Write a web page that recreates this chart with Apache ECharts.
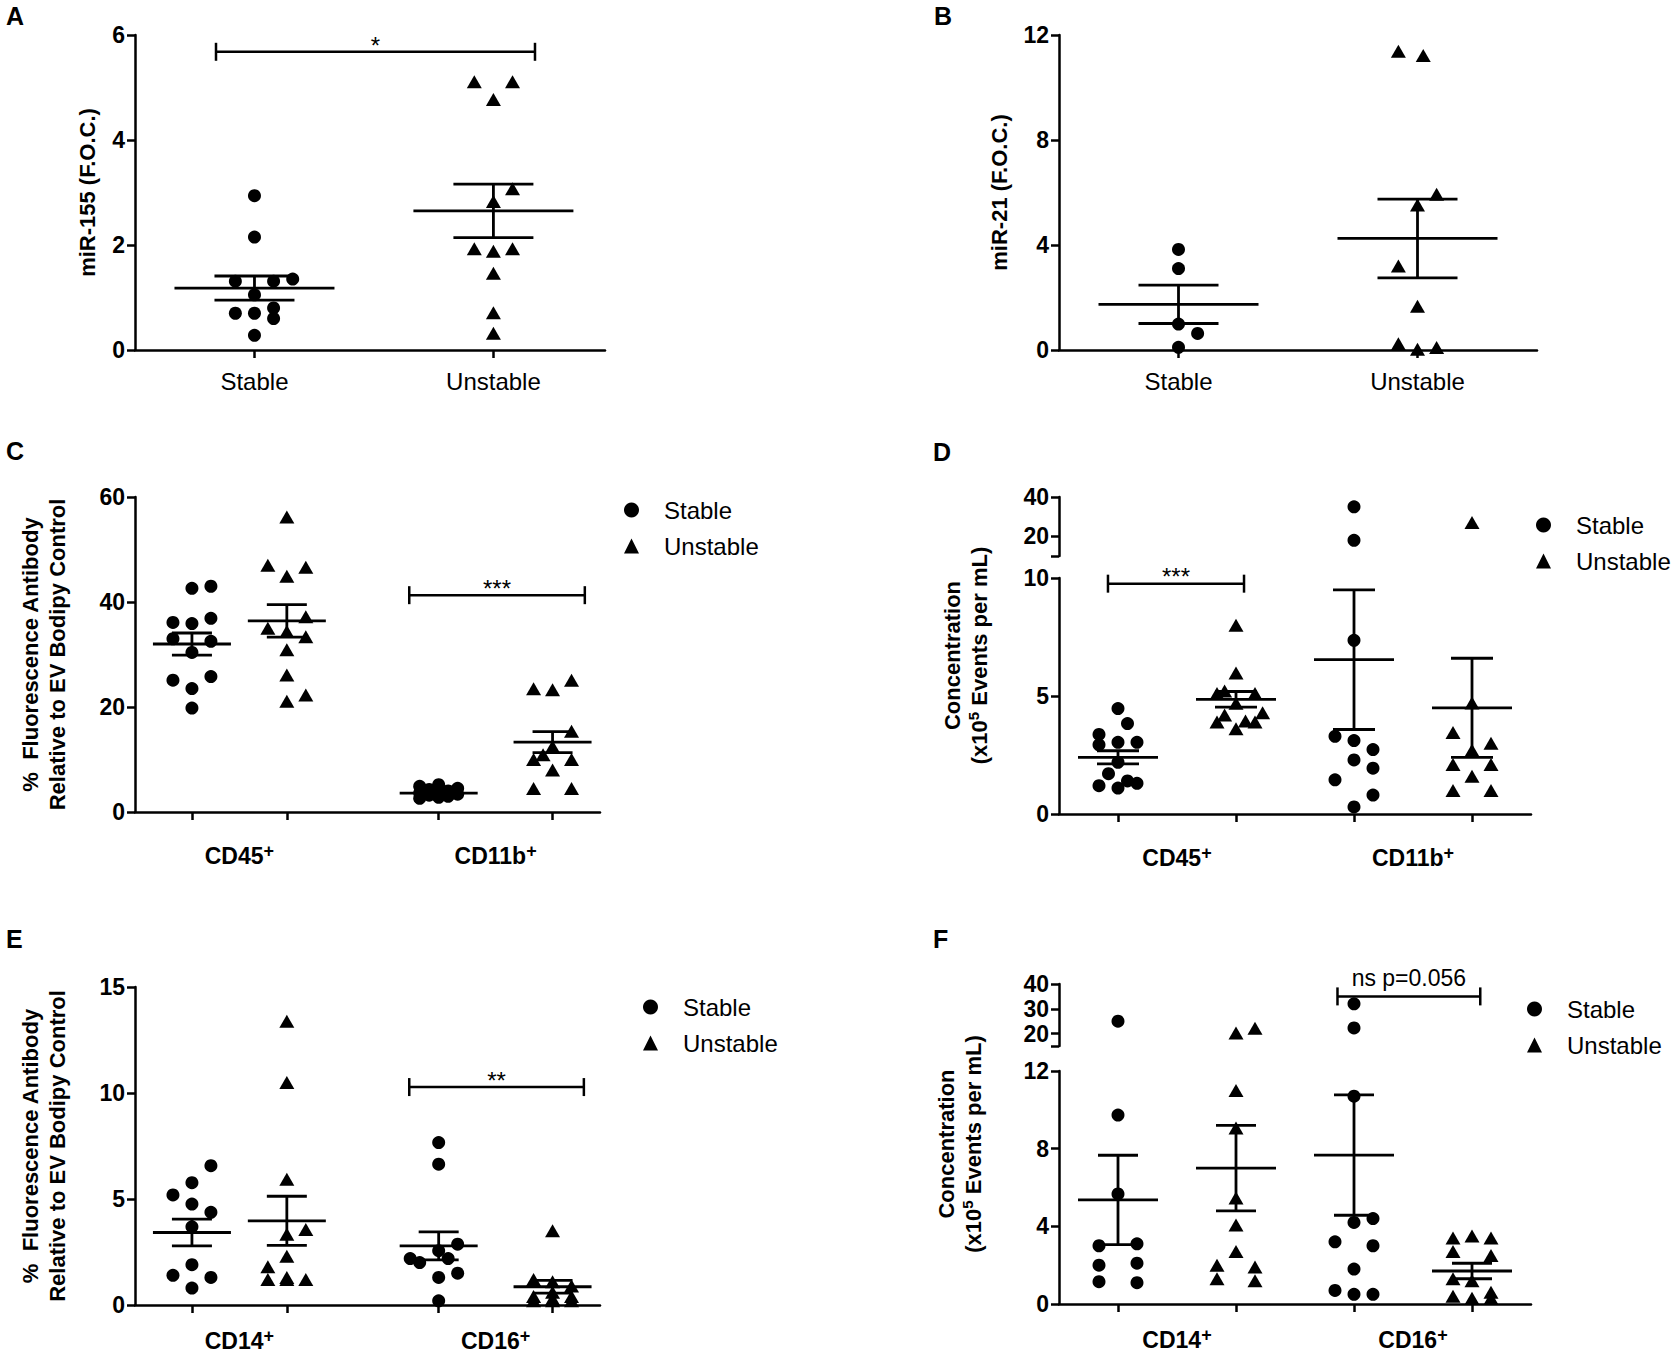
<!DOCTYPE html>
<html><head><meta charset="utf-8">
<script src="https://cdn.jsdelivr.net/npm/echarts@6/dist/echarts.min.js"></script>
<style>html,body{margin:0;padding:0;background:#fff}#c{width:1679px;height:1358px}</style>
</head><body><div id="c"></div>
<script>
// ================= DATA =================
// Panel A: miR-155 (F.O.C.)
const aCats = ['Stable', 'Unstable'];
const aStable = [2.94, 2.15, 1.31, 1.31, 1.35, 1.05, 0.70, 0.70, 0.80, 0.60, 0.28];
const aStableJit = [0, 0, -1, 1, 2, 0, -1, 0, 1, 1, 0];
const aUnstable = [5.11, 5.11, 4.77, 3.07, 2.83, 1.93, 1.88, 1.93, 1.46, 0.71, 0.32];
const aUnstableJit = [-1, 1, 0, 1, 0, -1, 0, 1, 0, 0, 0];
const aMean = [1.18, 2.65];
const aSem = [0.23, 0.51];
const aYTicks = [0, 2, 4, 6];

// Panel B: miR-21 (F.O.C.)
const bCats = ['Stable', 'Unstable'];
const bStable = [3.83, 3.10, 0.99, 0.63, 0.10];
const bStableJit = [0, 0, 0, 1, 0];
const bUnstable = [11.38, 11.22, 5.93, 5.52, 3.2, 1.67, 0.24, 0.03, 0.10];
const bUnstableJit = [-1, 0.3, 1, 0, -1, 0, -1, 0, 1];
const bMean = [1.74, 4.25];
const bSem = [0.73, 1.5];
const bYTicks = [0, 4, 8, 12];

// Panel C: % fluorescence antibody (CD45+, CD11b+)
const cGroups = ['CD45', 'CD11b'];
const cCD45Stable = [42.6, 43.0, 36.1, 35.9, 36.9, 33.0, 32.5, 30.4, 25.1, 25.8, 23.5, 19.8];
const cCD45StableJit = [0, 1, -1, 0, 1, -1, 1, 0, -1, 1, 0, 0];
const cCD45Unstable = [56.2, 47.0, 46.6, 44.9, 37.2, 35.0, 34.4, 33.4, 30.9, 26.1, 21.1, 22.3];
const cCD45UnstableJit = [0, -1, 1, 0, 1, -1, 0, 1, 0, 0, 0, 1];
const cCD11bStable = [5.2, 4.9, 4.5, 4.3, 4.0, 3.8, 3.6, 3.4, 3.2, 3.0, 2.8, 2.6];
const cCD11bStableJit = [0, -1, 1, -0.5, 0.5, 0, -1, 1, -0.5, 0.5, 0, -1];
const cCD11bUnstable = [23.5, 23.3, 25.1, 15.4, 12.5, 10.9, 10.0, 10.0, 8.0, 4.5, 4.5];
const cCD11bUnstableJit = [-1, 0, 1, 1, 0, -0.5, -1, 1, 0, -1, 1];
const cMean = [32.0, 36.4, 3.6, 13.3];
const cSem = [2.1, 3.1, 0.3, 2.0];
const cYTicks = [0, 20, 40, 60];

// Panel D: concentration (x10^5 events per mL), broken axis
const dGroups = ['CD45', 'CD11b'];
const dCD45Stable = [4.47, 3.83, 3.37, 2.93, 3.04, 3.04, 2.19, 1.71, 1.40, 1.20, 1.10, 1.30];
const dCD45StableJit = [0, 0.5, -1, -1, 0, 1, 0, -0.5, 0.5, -1, 0, 1];
const dCD45Unstable = [8.0, 5.97, 5.11, 5.21, 5.11, 4.69, 4.19, 4.29, 3.9, 3.94, 3.9, 3.61];
const dCD45UnstableJit = [0, 0, -1, -0.6, 1, 0, -0.6, 1.4, -1, 0.5, 1, 0];
const dCD11bStable = [35, 18, 7.36, 3.29, 3.11, 2.73, 2.29, 1.94, 1.45, 0.8, 0.3];
const dCD11bStableJit = [0, 0, 0, -1, 0, 1, 0, 1, -1, 1, 0];
const dCD11bUnstable = [27, 4.7, 3.45, 3.0, 2.7, 2.1, 2.1, 1.6, 1.0, 1.0];
const dCD11bUnstableJit = [0, 0, -1, 1, 0, -1, 1, 0, -1, 1];
const dMean = [2.4, 4.86, 6.54, 4.5];
const dSem = [0.28, 0.33, 2.96, 2.1];
const dYTicksTop = [20, 40];
const dYTicksBottom = [0, 5, 10];

// Panel E: % fluorescence antibody (CD14+, CD16+)
const eGroups = ['CD14', 'CD16'];
const eCD14Stable = [6.57, 5.77, 5.19, 4.76, 4.37, 3.69, 1.9, 1.4, 1.3, 0.8];
const eCD14StableJit = [1, 0, -1, 0, 1, 0, 0, -1, 1, 0];
const eCD14Unstable = [13.38, 10.5, 5.93, 3.56, 3.34, 2.3, 1.8, 1.3, 1.2, 1.2, 1.2];
const eCD14UnstableJit = [0, 0, 0, 1, 0, 0, -1, 0, -1, 1, 0];
const eCD16Stable = [7.66, 6.64, 2.87, 2.56, 2.19, 2.19, 2.0, 1.5, 1.3, 0.2];
const eCD16StableJit = [0, 0, 1, 0, -1.5, 0.5, -1, 1, 0, 0];
const eCD16Unstable = [3.5, 1.2, 1.1, 0.9, 0.6, 0.4, 0.4, 0.3, 0.2, 0.2, 0.2];
const eCD16UnstableJit = [0, -1, 0, 1, 0, -1, 1, 0, -1, 1, 0];
const eMean = [3.42, 3.97, 2.79, 0.86];
const eSem = [0.63, 1.16, 0.66, 0.3];
const eYTicks = [0, 5, 10, 15];

// Panel F: concentration (CD14+, CD16+), broken axis
const fGroups = ['CD14', 'CD16'];
const fCD14Stable = [25, 9.73, 5.67, 3.0, 3.1, 2.0, 2.1, 1.15, 1.1];
const fCD14StableJit = [0, 0, 0, -1, 1, -1, 1, -1, 1];
const fCD14Unstable = [20.2, 22.2, 11.0, 9.07, 5.46, 4.07, 2.7, 2.0, 1.9, 1.3, 1.2];
const fCD14UnstableJit = [0, 1, 0, 0, 0, 0, 0, -1, 1, -1, 1];
const fCD16Stable = [32, 22.3, 10.7, 4.4, 4.2, 3.2, 3.0, 1.8, 0.7, 0.5, 0.5];
const fCD16StableJit = [0, 0, 0, 1, 0, -1, 1, 0, -1, 0, 1];
const fCD16Unstable = [3.5, 3.4, 3.4, 2.7, 2.5, 1.3, 1.2, 0.6, 0.4, 0.3, 0.3];
const fCD16UnstableJit = [0, -1, 1, -1, 1, -1, 0, 1, -1, 0, 1];
const fMean = [5.36, 7.0, 7.67, 1.7];
const fSem = [2.3, 2.2, 3.1, 0.4];
const fYTicksTop = [20, 30, 40];
const fYTicksBottom = [0, 4, 8, 12];

// ================= BUILD =================
const FONT = "'Liberation Sans', Arial, Helvetica, sans-serif";
const AXL = {color: '#000', width: 2.5};
const RICH = {
  m: {fontSize: 23, fontWeight: 'bold', fontFamily: FONT, color: '#000', lineHeight: 28},
  s: {fontSize: 18, fontWeight: 'bold', fontFamily: FONT, color: '#000', lineHeight: 17, verticalAlign: 'top'},
  t: {fontSize: 22, fontWeight: 'bold', fontFamily: FONT, color: '#000', lineHeight: 27},
  u: {fontSize: 15, fontWeight: 'bold', fontFamily: FONT, color: '#000', lineHeight: 15, verticalAlign: 'top'}
};
const grids = [], xAxes = [], yAxes = [], series = [], legends = [];

function nameOpts(p) {
  return {
    name: p.yName, nameLocation: 'middle', nameGap: p.nameGap, nameRotate: 90,
    nameTextStyle: {fontSize: 22, fontWeight: 'bold', fontFamily: FONT, color: '#000', lineHeight: 27, rich: RICH}
  };
}

function addPanel(p) {
  const last = p.segs.length - 1;
  const segAx = p.segs.map((s, k) => {
    const gi = grids.length;
    grids.push({left: p.left, top: s.top, width: p.width, height: s.height});
    const bottom = k === last;
    xAxes.push({
      gridIndex: gi, type: 'value', min: 0, max: p.xMax, show: bottom,
      axisLine: {show: true, onZero: false, lineStyle: AXL},
      axisTick: {show: true, length: 8, lineStyle: AXL, customValues: p.colPos},
      axisLabel: {
        show: true, customValues: p.labelPos, margin: p.labelMargin,
        formatter: v => { const i = p.labelPos.findIndex(q => Math.abs(q - v) < 1e-6); return i < 0 ? '' : p.labelText[i]; },
        color: '#000', fontFamily: FONT, fontSize: p.labelSize, fontWeight: p.labelWeight, rich: RICH
      },
      splitLine: {show: false}
    });
    const yAx = {
      gridIndex: gi, type: 'value', min: s.min, max: s.max,
      axisLine: {show: true, lineStyle: AXL},
      axisTick: {show: true, length: 8, lineStyle: AXL, customValues: s.ticks},
      axisLabel: {customValues: s.labels, margin: 10, color: '#000', fontFamily: FONT, fontSize: 23, fontWeight: 'bold'},
      splitLine: {show: false}
    };
    if (!p.nameBox && bottom) Object.assign(yAx, nameOpts(p));
    yAxes.push(yAx);
    return {xi: xAxes.length - 1, yi: yAxes.length - 1, min: s.min, max: s.max};
  });
  if (p.nameBox) {
    const gi = grids.length;
    grids.push({left: p.left, top: p.nameBox.top, width: p.width, height: p.nameBox.height});
    xAxes.push({gridIndex: gi, type: 'value', min: 0, max: 1, show: false});
    yAxes.push(Object.assign({gridIndex: gi, type: 'value', min: 0, max: 1,
      axisLine: {show: false}, axisTick: {show: false}, axisLabel: {show: false}, splitLine: {show: false}}, nameOpts(p)));
  }
  const bottomMax = p.segs[last].max;
  p.groups.forEach((g, gIdx) => {
    const cx = p.colPos[gIdx];
    segAx.forEach((sg, k) => {
      const pts = [];
      g.vals.forEach((v, i) => {
        const inSeg = (k === last) ? v <= bottomMax : v > bottomMax;
        if (inSeg) pts.push([cx + g.jit[i] * p.step, v]);
      });
      if (!pts.length) return;
      series.push({
        type: 'scatter', name: g.name, xAxisIndex: sg.xi, yAxisIndex: sg.yi, silent: true, z: 3,
        symbol: g.name === 'Stable' ? 'circle' : 'triangle',
        symbolSize: g.name === 'Stable' ? 13 : [15, 13],
        itemStyle: {color: '#000', opacity: 1}, data: pts
      });
    });
  });
  const b = segAx[last];
  series.push({
    type: 'custom', xAxisIndex: b.xi, yAxisIndex: b.yi, silent: true, z: 4,
    data: p.colPos.map((c, i) => [c, p.mean[i], p.sem[i]]),
    encode: {x: 0, y: 1},
    renderItem: (params, api) => {
      const x = api.value(0), m = api.value(1), s = api.value(2);
      const pm = api.coord([x, m]), pt = api.coord([x, m + s]), pb = api.coord([x, m - s]);
      const st = {stroke: '#000', lineWidth: 2.8, fill: null};
      const mw = p.mw, cw = p.cw;
      return {type: 'group', children: [
        {type: 'line', shape: {x1: pm[0] - mw, y1: pm[1], x2: pm[0] + mw, y2: pm[1]}, style: st},
        {type: 'line', shape: {x1: pt[0], y1: pt[1], x2: pb[0], y2: pb[1]}, style: st},
        {type: 'line', shape: {x1: pt[0] - cw, y1: pt[1], x2: pt[0] + cw, y2: pt[1]}, style: st},
        {type: 'line', shape: {x1: pb[0] - cw, y1: pb[1], x2: pb[0] + cw, y2: pb[1]}, style: st}
      ]};
    }
  });
  if (p.sig) {
    const sgA = segAx[p.sig.seg];
    const sig = p.sig;
    series.push({
      type: 'custom', xAxisIndex: sgA.xi, yAxisIndex: sgA.yi, silent: true, z: 5,
      data: [[sig.x1, sig.x2, sig.y]], encode: {x: [0, 1], y: 2},
      renderItem: (params, api) => {
        const p1 = api.coord([api.value(0), api.value(2)]);
        const p2 = api.coord([api.value(1), api.value(2)]);
        const st = {stroke: '#000', lineWidth: 2.5};
        return {type: 'group', children: [
          {type: 'line', shape: {x1: p1[0], y1: p1[1], x2: p2[0], y2: p2[1]}, style: st},
          {type: 'line', shape: {x1: p1[0], y1: p1[1] - 9, x2: p1[0], y2: p1[1] + 9}, style: st},
          {type: 'line', shape: {x1: p2[0], y1: p2[1] - 9, x2: p2[0], y2: p2[1] + 9}, style: st},
          {type: 'text', style: {text: sig.text, x: (p1[0] + p2[0]) / 2, y: p1[1] + sig.dy,
            align: 'center', verticalAlign: 'middle', fontSize: sig.size, fontFamily: FONT, fill: '#000'}}
        ]};
      }
    });
  }
  if (p.legend) {
    legends.push({
      left: p.legend.left, top: p.legend.top, orient: 'vertical', itemGap: 12,
      itemWidth: 15, itemHeight: 15, selectedMode: false,
      data: [{name: 'Stable', icon: 'circle'}, {name: 'Unstable', icon: 'triangle'}],
      textStyle: {fontSize: 24, fontFamily: FONT, color: '#000', padding: [0, 0, 0, 20]}
    });
  }
}

function mk(groupNames, vals) { // order: Stable, Unstable, Stable, Unstable
  return vals.map((v, i) => ({name: i % 2 === 0 ? 'Stable' : 'Unstable', vals: v[0], jit: v[1]}));
}
const supLabel = n => '{m|' + n + '}{s|+}';

// A
addPanel({
  left: 135, width: 470, xMax: 1.967, colPos: [0.5, 1.5], labelPos: [0.5, 1.5], labelText: aCats,
  labelSize: 24, labelWeight: 'normal', labelMargin: 19, step: 0.08,
  segs: [{top: 35, height: 315, min: 0, max: 6, labels: aYTicks, ticks: aYTicks}],
  groups: mk(aCats, [[aStable, aStableJit], [aUnstable, aUnstableJit]]),
  mean: aMean, sem: aSem, mw: 80, cw: 40,
  yName: 'miR-155 (F.O.C.)', nameGap: 34,
  sig: {seg: 0, x1: 0.339, x2: 1.674, y: 5.68, text: '*', size: 24, dy: -6}
});
// B
addPanel({
  left: 1059, width: 478, xMax: 2, colPos: [0.5, 1.5], labelPos: [0.5, 1.5], labelText: bCats,
  labelSize: 24, labelWeight: 'normal', labelMargin: 19, step: 0.08,
  segs: [{top: 35, height: 315, min: 0, max: 12, labels: bYTicks, ticks: bYTicks}],
  groups: mk(bCats, [[bStable, bStableJit], [bUnstable, bUnstableJit]]),
  mean: bMean, sem: bSem, mw: 80, cw: 40,
  yName: 'miR-21 (F.O.C.)', nameGap: 46
});
// C
addPanel({
  left: 135, width: 465, xMax: 4.9, colPos: [0.6, 1.6, 3.2, 4.4], labelPos: [1.1, 3.8],
  labelText: cGroups.map(supLabel), labelSize: 23, labelWeight: 'bold', labelMargin: 30, step: 0.2,
  segs: [{top: 497, height: 315, min: 0, max: 60, labels: cYTicks, ticks: cYTicks}],
  groups: mk(cGroups, [[cCD45Stable, cCD45StableJit], [cCD45Unstable, cCD45UnstableJit],
                       [cCD11bStable, cCD11bStableJit], [cCD11bUnstable, cCD11bUnstableJit]]),
  mean: cMean, sem: cSem, mw: 39, cw: 20,
  yName: '%  Fluorescence Antibody\nRelative to EV Bodipy Control', nameGap: 64,
  sig: {seg: 0, x1: 2.89, x2: 4.74, y: 41.3, text: '***', size: 24, dy: -7},
  legend: {left: 619, top: 493}
});
// D
addPanel({
  left: 1059, width: 472, xMax: 4, colPos: [0.5, 1.5, 2.5, 3.5], labelPos: [1, 3],
  labelText: dGroups.map(supLabel), labelSize: 23, labelWeight: 'bold', labelMargin: 30, step: 0.161,
  segs: [{top: 497, height: 59, min: 10, max: 40, labels: dYTicksTop, ticks: [10].concat(dYTicksTop)},
         {top: 578, height: 236, min: 0, max: 10, labels: dYTicksBottom, ticks: dYTicksBottom}],
  nameBox: {top: 497, height: 317},
  groups: mk(dGroups, [[dCD45Stable, dCD45StableJit], [dCD45Unstable, dCD45UnstableJit],
                       [dCD11bStable, dCD11bStableJit], [dCD11bUnstable, dCD11bUnstableJit]]),
  mean: dMean, sem: dSem, mw: 40, cw: 21,
  yName: '{t|Concentration}\n{t|(x10}{u|5}{t| Events per mL)}', nameGap: 66,
  sig: {seg: 1, x1: 0.415, x2: 1.568, y: 9.76, text: '***', size: 24, dy: -7},
  legend: {left: 1531, top: 508}
});
// E
addPanel({
  left: 135, width: 465, xMax: 4.9, colPos: [0.6, 1.6, 3.2, 4.4], labelPos: [1.1, 3.8],
  labelText: eGroups.map(supLabel), labelSize: 23, labelWeight: 'bold', labelMargin: 22, step: 0.2,
  segs: [{top: 987, height: 318, min: 0, max: 15, labels: eYTicks, ticks: eYTicks}],
  groups: mk(eGroups, [[eCD14Stable, eCD14StableJit], [eCD14Unstable, eCD14UnstableJit],
                       [eCD16Stable, eCD16StableJit], [eCD16Unstable, eCD16UnstableJit]]),
  mean: eMean, sem: eSem, mw: 39, cw: 20,
  yName: '%  Fluorescence Antibody\nRelative to EV Bodipy Control', nameGap: 64,
  sig: {seg: 0, x1: 2.89, x2: 4.73, y: 10.28, text: '**', size: 24, dy: -7},
  legend: {left: 638, top: 990}
});
// F
addPanel({
  left: 1059, width: 472, xMax: 4, colPos: [0.5, 1.5, 2.5, 3.5], labelPos: [1, 3],
  labelText: fGroups.map(supLabel), labelSize: 23, labelWeight: 'bold', labelMargin: 22, step: 0.161,
  segs: [{top: 984, height: 62, min: 15, max: 40, labels: fYTicksTop, ticks: [15].concat(fYTicksTop)},
         {top: 1071, height: 233, min: 0, max: 12, labels: fYTicksBottom, ticks: fYTicksBottom}],
  nameBox: {top: 984, height: 320},
  groups: mk(fGroups, [[fCD14Stable, fCD14StableJit], [fCD14Unstable, fCD14UnstableJit],
                       [fCD16Stable, fCD16StableJit], [fCD16Unstable, fCD16UnstableJit]]),
  mean: fMean, sem: fSem, mw: 40, cw: 20,
  yName: '{t|Concentration}\n{t|(x10}{u|5}{t| Events per mL)}', nameGap: 72,
  sig: {seg: 0, x1: 2.36, x2: 3.57, y: 35, text: 'ns p=0.056', size: 23, dy: -18},
  legend: {left: 1522, top: 992}
});

const letterStyle = {fontSize: 25, fontWeight: 'bold', fontFamily: FONT, color: '#000'};
const letters = [['A', 6, 3], ['B', 934, 3], ['C', 6, 438], ['D', 933, 439], ['E', 6, 926], ['F', 933, 926]];

const chart = echarts.init(document.getElementById('c'), null, {renderer: 'svg'});
chart.setOption({
  backgroundColor: '#fff',
  animation: false,
  title: letters.map(l => ({text: l[0], left: l[1], top: l[2], padding: 0, textStyle: letterStyle})),
  legend: legends,
  grid: grids,
  xAxis: xAxes,
  yAxis: yAxes,
  series: series
});
</script></body></html>
